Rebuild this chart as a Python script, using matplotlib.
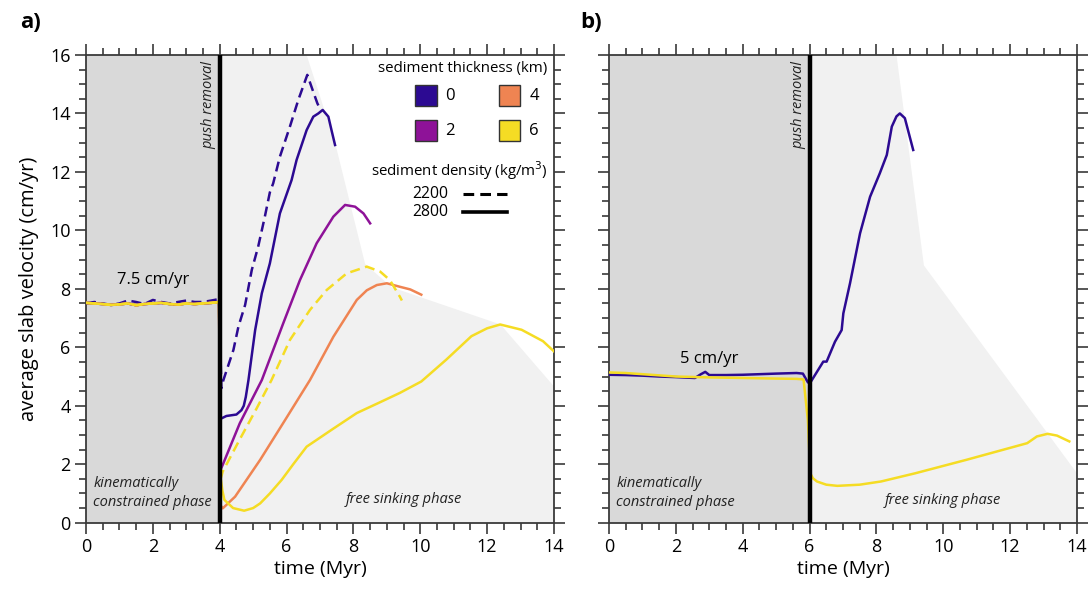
import numpy as np
import matplotlib
matplotlib.use("Agg")
import matplotlib.pyplot as plt
from matplotlib.patches import Rectangle, Polygon
from matplotlib.ticker import MultipleLocator

plt.rcParams['font.family'] = ['Open Sans', 'DejaVu Sans']

# colours for sediment thickness (km)
thick_labels = ['0', '2', '4', '6']
thick_colors = ['#2c0a92', '#8e1298', '#ef8452', '#f5dc24']

# ---- panel a: push removal at 4 Myr ----
push_a = 4.0
pre_t = [0, 0.25, 0.5, 0.75, 1, 1.25, 1.5, 1.75, 2, 2.25, 2.5, 2.75, 3, 3.25, 3.5, 3.75, 3.98]
pre_v_blue_d = [7.5, 7.55, 7.5, 7.45, 7.5, 7.6, 7.55, 7.48, 7.62, 7.55, 7.5, 7.55, 7.6, 7.55, 7.55, 7.6, 7.65]
pre_v_common = [7.52, 7.5, 7.48, 7.45, 7.47, 7.5, 7.44, 7.48, 7.5, 7.52, 7.48, 7.46, 7.5, 7.48, 7.5, 7.52, 7.55]

# sediment 0 km, density 2200 (dashed)
a0d_t = [4.05, 4.11, 4.41, 4.56, 4.76, 4.96, 5.15, 5.35, 5.5, 5.6, 5.8, 6.1, 6.35, 6.62, 6.78, 6.92, 6.98]
a0d_v = [4.6, 4.88, 5.91, 6.71, 7.45, 8.65, 9.44, 10.47, 11.3, 11.61, 12.52, 13.55, 14.46, 15.32, 14.8, 14.35, 14.2]
# sediment 0 km, density 2800
a0_t = [4.02, 4.2, 4.5, 4.65, 4.72, 4.78, 4.86, 5.06, 5.26, 5.5, 5.8, 6.15, 6.3, 6.6, 6.8, 6.95, 7.08, 7.25, 7.35, 7.45]
a0_v = [3.55, 3.65, 3.7, 3.85, 4.0, 4.3, 4.88, 6.59, 7.85, 8.87, 10.58, 11.72, 12.41, 13.43, 13.89, 14.0, 14.12, 13.89, 13.4, 12.92]
# sediment 2 km
a2_t = [4.02, 4.09, 4.6, 5.26, 5.9, 6.4, 6.9, 7.4, 7.75, 8.05, 8.3, 8.5]
a2_v = [1.8, 1.98, 3.4, 4.88, 6.82, 8.3, 9.56, 10.47, 10.87, 10.81, 10.58, 10.24]
# sediment 4 km
a4_t = [4.02, 4.09, 4.46, 5.21, 5.96, 6.7, 7.4, 8.1, 8.4, 8.7, 9.0, 9.39, 9.7, 10.03]
a4_v = [0.6, 0.49, 0.89, 2.15, 3.52, 4.88, 6.36, 7.62, 7.95, 8.13, 8.19, 8.07, 7.98, 7.8]
# sediment 6 km, density 2200 (dashed)
a6d_t = [4.03, 4.09, 4.6, 5.1, 5.55, 6.1, 6.7, 7.2, 7.8, 8.4, 8.8, 9.09, 9.39, 9.45]
a6d_v = [1.5, 1.75, 2.85, 3.9, 4.88, 6.25, 7.28, 7.96, 8.53, 8.76, 8.59, 8.3, 7.73, 7.6]
# sediment 6 km, density 2800
a6_t = [4.02, 4.08, 4.14, 4.4, 4.73, 5.0, 5.21, 5.5, 5.85, 6.2, 6.6, 7.35, 8.1, 8.74, 9.39, 10.03, 10.78, 11.53, 12.0, 12.39, 13.03, 13.67, 14.0]
a6_v = [1.6, 1.1, 0.78, 0.5, 0.41, 0.5, 0.66, 1.0, 1.46, 2.0, 2.6, 3.18, 3.75, 4.09, 4.44, 4.83, 5.58, 6.38, 6.65, 6.78, 6.6, 6.21, 5.86]

# free sinking envelope (light grey)
env_a_t = [4, 4, 6.6, 7.45, 8.35, 9.15, 12.4, 14, 14]
env_a_v = [0, 16, 16, 13.0, 8.85, 8.05, 6.78, 4.66, 0]

# ---- panel b: push removal at 6 Myr ----
push_b = 6.0
b0_t = [0, 0.5, 1, 1.5, 2, 2.57, 2.75, 2.88, 3.0, 3.5, 4, 4.5, 5, 5.61, 5.8, 5.95, 6.01,
        6.41, 6.51, 6.76, 6.96, 7.01, 7.21, 7.51, 7.81, 8.1, 8.31, 8.46, 8.6, 8.7, 8.85, 9.1]
b0_v = [5.06, 5.05, 5.03, 5.0, 4.98, 4.95, 5.08, 5.16, 5.05, 5.05, 5.06, 5.08, 5.1, 5.12, 5.1, 4.8, 4.77,
        5.51, 5.51, 6.19, 6.59, 7.16, 8.19, 9.9, 11.15, 11.95, 12.58, 13.55, 13.9, 14.0, 13.84, 12.75]
b6_t = [0, 0.5, 1, 2, 3, 4, 5, 5.61, 5.82, 5.95, 6.02, 6.1, 6.22, 6.5, 6.83, 7.5, 8.14, 9.16, 10.69, 12.51, 12.8, 13.12, 13.4, 13.77]
b6_v = [5.14, 5.12, 5.08, 5.0, 4.97, 4.95, 4.93, 4.92, 4.9, 3.5, 1.69, 1.52, 1.41, 1.3, 1.26, 1.3, 1.41, 1.69, 2.15, 2.72, 2.95, 3.04, 2.98, 2.78]

env_b_t = [6, 6, 8.6, 9.42, 14, 14]
env_b_v = [0, 16, 16, 8.8, 1.69, 0]

fig = plt.figure(figsize=(10.91, 5.90), dpi=100)
ax_a = fig.add_axes([86 / 1091, 0.1141, 468 / 1091, 0.7927])
ax_b = fig.add_axes([609 / 1091, 0.1141, 468 / 1091, 0.7927])

spine_col = '#3a3a3a'
lw = 1.8
dash = (0, (4, 2.2))
note_col = '#222222'


def style_axis(ax, labels_y=True):
    ax.set_xlim(0, 14)
    ax.set_ylim(0, 16)
    ax.xaxis.set_major_locator(MultipleLocator(2))
    ax.xaxis.set_minor_locator(MultipleLocator(0.5))
    ax.yaxis.set_major_locator(MultipleLocator(2))
    ax.yaxis.set_minor_locator(MultipleLocator(0.5))
    ax.tick_params(which='both', direction='out', top=True, right=True,
                   color=spine_col, width=1.2, labelsize=13)
    ax.tick_params(which='major', length=8, pad=3)
    ax.tick_params(which='minor', length=5)
    ax.tick_params(labeltop=False, labelright=False, labelleft=labels_y)
    for s in ax.spines.values():
        s.set_color(spine_col)
        s.set_linewidth(1.3)
    ax.set_xlabel('time (Myr)', fontsize=14, labelpad=3)


def shade(ax, push, env_t, env_v):
    ax.add_patch(Rectangle((0, 0), push, 16, facecolor='#d9d9d9', edgecolor='none', zorder=0))
    ax.add_patch(Polygon(list(zip(env_t, env_v)), closed=True, facecolor='#f1f1f1', edgecolor='none', zorder=0))
    ax.axvline(push, color='black', lw=3.2, zorder=5)
    ax.text(push - 0.1, 15.8, 'push removal', rotation=90, ha='right', va='top',
            style='italic', fontsize=10.5, color=note_col)
    ax.text(0.22, 0.45, 'kinematically\nconstrained phase', ha='left', va='bottom',
            style='italic', fontsize=10.5, color=note_col, linespacing=1.3)


# ----- panel a -----
style_axis(ax_a)
shade(ax_a, push_a, env_a_t, env_a_v)
ax_a.plot(pre_t + a0d_t, pre_v_blue_d + a0d_v, color=thick_colors[0], lw=lw, ls=dash, zorder=3)
ax_a.plot(pre_t + a0_t, pre_v_common + a0_v, color=thick_colors[0], lw=lw, zorder=3)
ax_a.plot(pre_t + a2_t, pre_v_common + a2_v, color=thick_colors[1], lw=lw, zorder=3)
ax_a.plot(pre_t + a4_t, pre_v_common + a4_v, color=thick_colors[2], lw=lw, zorder=3)
ax_a.plot(pre_t + a6d_t, pre_v_common + a6d_v, color=thick_colors[3], lw=lw, ls=dash, zorder=3)
ax_a.plot(pre_t + a6_t, pre_v_common + a6_v, color=thick_colors[3], lw=lw, zorder=4)
ax_a.set_ylabel('average slab velocity (cm/yr)', fontsize=14.5, labelpad=8)
ax_a.text(2.0, 8.3, '7.5 cm/yr', ha='center', va='center', fontsize=12)
ax_a.text(9.5, 0.8, 'free sinking phase', ha='center', va='center', style='italic', fontsize=10.5, color=note_col)

# legend drawn by hand
leg_fs = 10.8
ax_a.text(13.8, 15.55, 'sediment thickness (km)', ha='right', va='center', fontsize=leg_fs)
sq_x = [9.85, 12.35]
sq_y = [14.25, 13.05]
for i, lab in enumerate(thick_labels):
    col, row = i // 2, i % 2
    ax_a.add_patch(Rectangle((sq_x[col], sq_y[row]), 0.64, 0.73, facecolor=thick_colors[i],
                             edgecolor='#333333', lw=1.0, zorder=6))
    ax_a.text(sq_x[col] + 1.05, sq_y[row] + 0.36, lab, ha='center', va='center', fontsize=12)
ax_a.text(13.8, 12.05, 'sediment density (kg/m$^3$)', ha='right', va='center', fontsize=leg_fs)
ax_a.text(10.85, 11.25, '2200', ha='right', va='center', fontsize=leg_fs + 0.5)
ax_a.text(10.85, 10.62, '2800', ha='right', va='center', fontsize=leg_fs + 0.5)
ax_a.plot([11.28, 12.6], [11.25, 11.25], color='black', lw=2.2, ls=(0, (3.5, 2)), zorder=6)
ax_a.plot([11.28, 12.6], [10.62, 10.62], color='black', lw=2.6, zorder=6)

# ----- panel b -----
style_axis(ax_b, labels_y=False)
shade(ax_b, push_b, env_b_t, env_b_v)
ax_b.plot(b0_t, b0_v, color=thick_colors[0], lw=lw, zorder=3)
ax_b.plot(b6_t, b6_v, color=thick_colors[3], lw=lw, zorder=4)
ax_b.text(3.0, 5.6, '5 cm/yr', ha='center', va='center', fontsize=12)
ax_b.text(10.0, 0.75, 'free sinking phase', ha='center', va='center', style='italic', fontsize=10.5, color=note_col)

fig.text(20 / 1091, 1 - 22 / 590, 'a)', fontsize=16, fontweight='bold', va='center', ha='left')
fig.text(580 / 1091, 1 - 22 / 590, 'b)', fontsize=16, fontweight='bold', va='center', ha='left')

fig.savefig('out.png', dpi=100)
